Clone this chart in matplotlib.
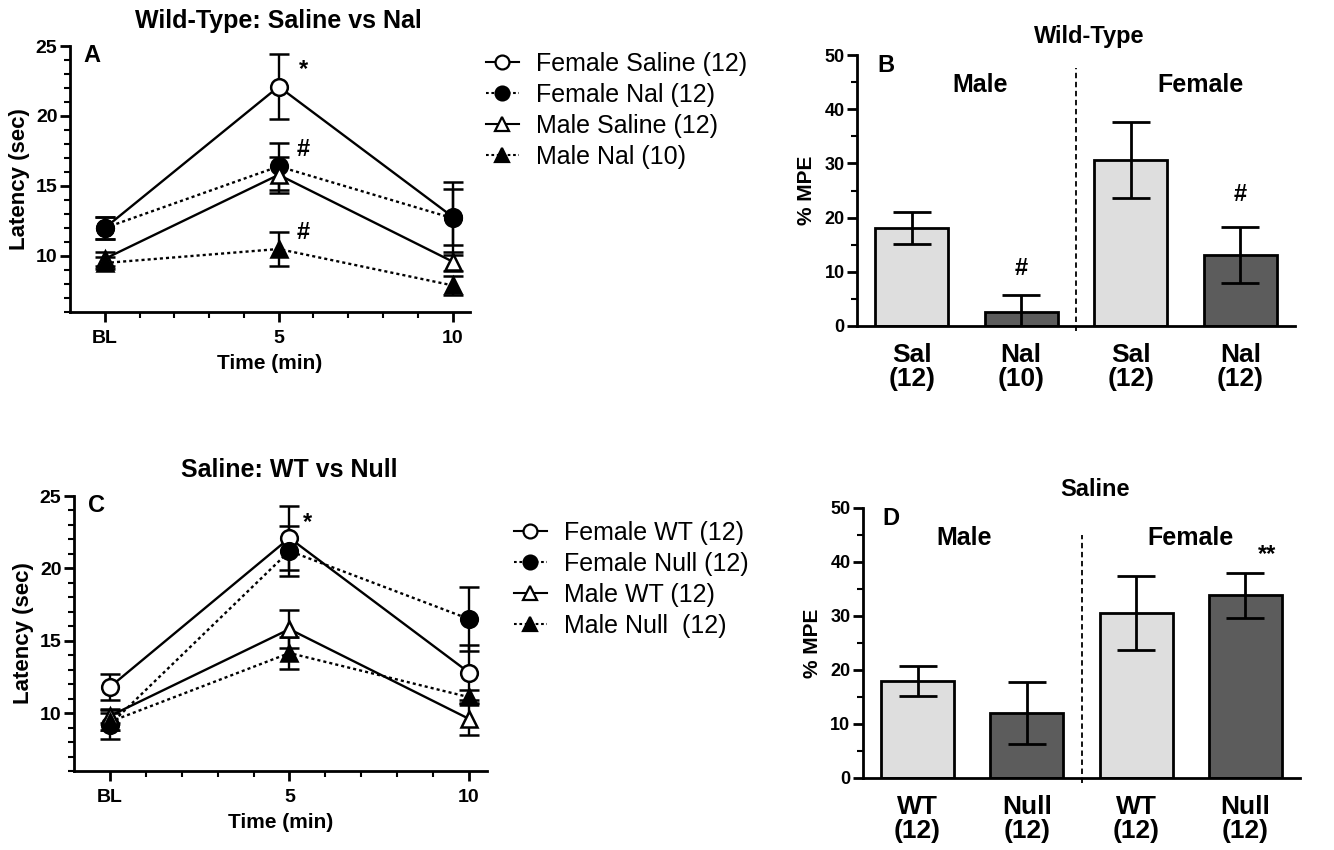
import numpy as np
import matplotlib.pyplot as plt
from matplotlib.lines import Line2D

plt.rcParams['font.family'] = ['Liberation Sans', 'DejaVu Sans']
plt.rcParams['font.weight'] = 'bold'
plt.rcParams['axes.labelweight'] = 'bold'

# time course data (latency, sec)
time_x = [0, 5, 10]
time_labels = ['BL', '5', '10']

# panel A: wild-type saline vs nal
fem_sal = [12.0, 22.1, 12.8]
fem_sal_err = [0.8, 2.3, 2.0]
fem_nal = [12.0, 16.4, 12.7]
fem_nal_err = [0.8, 1.7, 2.6]
male_sal = [9.8, 15.8, 9.6]
male_sal_err = [0.5, 1.3, 0.7]
male_nal = [9.5, 10.5, 7.9]
male_nal_err = [0.4, 1.2, 0.7]

# panel C: saline, WT vs null
fem_wt = [11.8, 22.1, 12.8]
fem_wt_err = [0.9, 2.2, 1.9]
fem_null = [9.2, 21.2, 16.5]
fem_null_err = [1.0, 1.7, 2.2]
male_wt = [9.8, 15.8, 9.6]
male_wt_err = [0.5, 1.3, 1.1]
male_null = [9.4, 14.15, 11.1]
male_null_err = [0.6, 1.1, 0.5]

# panel B: %MPE wild-type
b_labels = ['Sal\n(12)', 'Nal\n(10)', 'Sal\n(12)', 'Nal\n(12)']
b_mean = [18.1, 2.6, 30.7, 13.1]
b_err = [2.9, 3.1, 7.0, 5.1]

# panel D: %MPE saline
d_labels = ['WT\n(12)', 'Null\n(12)', 'WT\n(12)', 'Null\n(12)']
d_mean = [18.0, 12.0, 30.6, 33.8]
d_err = [2.8, 5.7, 6.9, 4.2]

light = '#dedede'
dark = '#5c5c5c'
bar_colors = [light, dark, light, dark]

fig = plt.figure(figsize=(13.34, 8.5), dpi=100)

W, H = 1334, 850
def box(l, t, r, b):
    return [l / W, 1 - b / H, (r - l) / W, (b - t) / H]

axA = fig.add_axes(box(70, 46, 470, 312))
axC = fig.add_axes(box(74, 496, 487, 771))
axB = fig.add_axes(box(857, 55, 1295, 326))
axD = fig.add_axes(box(863, 508, 1300, 778))

dot = (0, (1.3, 1.3))

def style_axes(ax, ylab_size):
    for s in ['top', 'right']:
        ax.spines[s].set_visible(False)
    for s in ['left', 'bottom']:
        ax.spines[s].set_linewidth(2)
    ax.tick_params(which='major', direction='out', length=7, width=2,
                   labelsize=ylab_size, pad=2)
    ax.tick_params(which='minor', direction='out', length=4, width=1.5)

def line_panel(ax, series, title, letter, stars, legend_xy, labels):
    for (y, e, mk, fc, ls) in series:
        ax.errorbar(time_x, y, yerr=e, color='black', marker=mk, ms=12,
                    mfc=fc, mec='black', mew=1.8, lw=1.7, ls=ls,
                    elinewidth=1.7, capsize=7, capthick=1.7, zorder=3)
    ax.set_xlim(-1, 10.5)
    ax.set_ylim(6, 25)
    ax.set_xticks(time_x)
    ax.set_xticklabels(time_labels)
    ax.set_xticks(range(1, 10), minor=True)
    ax.set_yticks([10, 15, 20, 25])
    ax.set_yticks(range(6, 25), minor=True)
    style_axes(ax, 14)
    ax.tick_params(axis='x', which='major', pad=6)
    ax.set_xlabel('Time (min)', fontsize=15, fontweight='bold', labelpad=5)
    ax.set_ylabel('Latency (sec)', fontsize=16, fontweight='bold', labelpad=4)
    ax.text(0.52, 1.05, title, transform=ax.transAxes, ha='center',
            va='bottom', fontsize=18)
    ax.text(0.055, 0.965, letter, transform=ax.transAxes, ha='center',
            va='center', fontsize=17)
    for (sx, sy, s) in stars:
        ax.text(sx, sy, s, ha='center', va='center', fontsize=17)
    handles = []
    for (y, e, mk, fc, ls), lab in zip(series, labels):
        handles.append(Line2D([], [], color='black', marker=mk, ms=10,
                              mfc=fc, mec='black', mew=1.6, lw=1.5, ls=ls,
                              label=lab))
    fig.legend(handles=handles, loc='upper left',
               bbox_to_anchor=(legend_xy[0] / W, 1 - legend_xy[1] / H),
               frameon=False, prop={'size': 18, 'weight': 'normal'},
               handlelength=1.3, handletextpad=0.7, labelspacing=0.28,
               borderpad=0, borderaxespad=0)

line_panel(axA,
           [(fem_sal, fem_sal_err, 'o', 'white', '-'),
            (fem_nal, fem_nal_err, 'o', 'black', dot),
            (male_sal, male_sal_err, '^', 'white', '-'),
            (male_nal, male_nal_err, '^', 'black', dot)],
           'Wild-Type: Saline vs Nal', 'A',
           [(5.7, 23.3, '*'), (5.7, 17.6, '#'), (5.7, 11.7, '#')],
           (486, 52),
           ['Female Saline (12)', 'Female Nal (12)', 'Male Saline (12)',
            'Male Nal (10)'])

line_panel(axC,
           [(fem_wt, fem_wt_err, 'o', 'white', '-'),
            (fem_null, fem_null_err, 'o', 'black', dot),
            (male_wt, male_wt_err, '^', 'white', '-'),
            (male_null, male_null_err, '^', 'black', dot)],
           'Saline: WT vs Null', 'C',
           [(5.5, 23.2, '*')],
           (514, 521),
           ['Female WT (12)', 'Female Null (12)', 'Male WT (12)',
            'Male Null  (12)'])

def bar_panel(ax, means, errs, labels, title, letter, marks, male_x, fem_x,
              div_top):
    x = np.arange(len(means))
    ax.bar(x, means, width=0.67, color=bar_colors, edgecolor='black',
           linewidth=2, zorder=2)
    ax.errorbar(x, means, yerr=errs, fmt='none', ecolor='black',
                elinewidth=2, capsize=14, capthick=2, zorder=3)
    ax.plot([1.5, 1.5], [-1, div_top], color='black', lw=1.3,
            ls=(0, (3, 2)), clip_on=False, zorder=1)
    ax.set_xlim(-0.5, 3.5)
    ax.set_ylim(0, 50)
    ax.set_xticks(x)
    ax.set_xticklabels(labels, linespacing=1.0)
    ax.set_yticks(range(0, 51, 10))
    ax.set_yticks(range(0, 51, 5), minor=True)
    style_axes(ax, 13)
    ax.tick_params(axis='x', which='major', length=0, labelsize=19, pad=12)
    ax.set_ylabel('% MPE', fontsize=15, fontweight='bold', labelpad=6)
    ax.text(0.53, 1.07, title, transform=ax.transAxes, ha='center',
            va='center', fontsize=17)
    ax.text(0.065, 0.96, letter, transform=ax.transAxes, ha='center',
            va='center', fontsize=17)
    ax.text(male_x, 44.4, 'Male', ha='center', va='center', fontsize=18)
    ax.text(fem_x, 44.4, 'Female', ha='center', va='center', fontsize=18)
    for (mx, my, s) in marks:
        ax.text(mx, my, s, ha='center', va='center', fontsize=17)

bar_panel(axB, b_mean, b_err, b_labels, 'Wild-Type', 'B',
          [(1, 10.6, '#'), (3, 24.2, '#')], 0.62, 2.64, 47.6)
bar_panel(axD, d_mean, d_err, d_labels, 'Saline', 'D',
          [(3.2, 41.4, '**')], 0.43, 2.5, 45)

fig.savefig('out.png', dpi=100, facecolor='white')
